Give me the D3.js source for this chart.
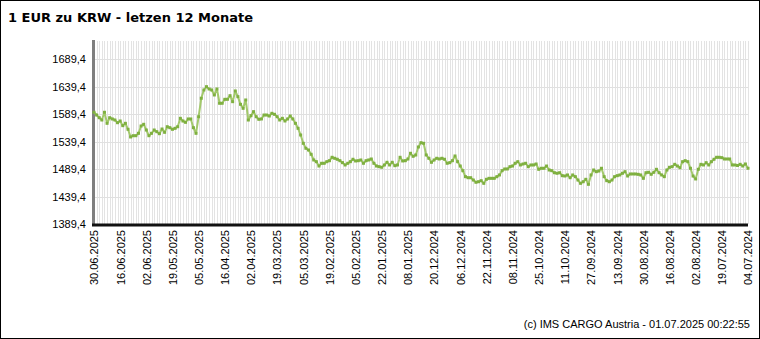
<!DOCTYPE html>
<html><head><meta charset="utf-8">
<script src="https://cdn.jsdelivr.net/npm/d3@7"></script>
<style>body{margin:0;background:#fff}svg{display:block}</style>
</head><body>
<script>
const titleText = "1 EUR zu KRW - letzen 12 Monate";
const footerText = "(c) IMS CARGO Austria - 01.07.2025 00:22:55";
const xTickLabels = ["30.06.2025","16.06.2025","02.06.2025","19.05.2025","05.05.2025","16.04.2025","02.04.2025","19.03.2025","05.03.2025","19.02.2025","05.02.2025","22.01.2025","08.01.2025","20.12.2024","06.12.2024","22.11.2024","08.11.2024","25.10.2024","11.10.2024","27.09.2024","13.09.2024","30.08.2024","16.08.2024","02.08.2024","19.07.2024","04.07.2024"];
const yTicks = [1389.4,1439.4,1489.4,1539.4,1589.4,1639.4,1689.4];
const yDomain = [1389.4, 1722.7];
// daily EUR/KRW rates, left (30.06.2025) to right (04.07.2024)
const rates = [
1592.9,1587.9,1583.0,1578.8,1592.9,1572.8,1583.0,1580.7,1578.8,1573.9,
1577.0,1568.5,1572.8,1561.9,1547.9,1550.2,1550.2,1554.6,1567.9,1571.0,
1560.6,1550.2,1554.6,1560.6,1557.5,1553.9,1562.4,1556.4,1566.6,1564.8,
1561.9,1563.7,1566.6,1581.9,1577.0,1574.6,1580.7,1580.7,1564.8,1554.6,
1584.8,1618.4,1633.5,1639.5,1635.3,1633.5,1624.4,1635.3,1609.3,1609.3,
1616.5,1616.5,1623.1,1612.2,1631.7,1621.3,1607.4,1600.1,1615.3,1578.8,
1586.7,1594.0,1584.8,
1580.1,1580.7,1587.9,1587.9,1586.1,1591.0,1589.2,1584.8,1578.8,1581.9,
1577.0,1580.7,1586.1,1580.7,1572.8,1563.7,1551.5,1536.4,1527.3,1524.2,
1516.4,1506.0,1502.9,1495.0,1500.0,1500.0,1502.9,1504.7,1510.9,1509.1,
1507.3,1504.7,1501.1,1496.9,1500.0,1502.9,1507.3,1504.2,1504.7,1506.0,
1500.0,1504.7,1506.0,1507.8,1500.0,1495.0,1493.8,1492.7,1496.9,1501.8,
1496.9,1501.8,1495.6,1496.9,1510.9,1504.2,1504.7,1507.8,1518.2,1512.7,
1515.1,1529.7,1537.5,1536.4,1515.1,1509.1,1501.8,1506.0,1509.1,1507.8,
1509.1,1507.3,1500.0,1501.1,1504.7,1513.3,1502.9,1495.0,1486.5,1475.6,
1473.7,1473.7,1469.5,1465.4,1466.4,1468.3,1463.5,1470.8,1472.6,1472.6,
1472.6,1475.6,1478.7,1486.5,1489.6,1489.6,1493.8,1495.0,1500.0,1502.9,
1496.9,1498.7,1500.0,1493.8,1496.9,1496.9,1498.7,1489.0,1490.9,1490.9,
1495.0,1487.8,1486.5,1482.8,1481.8,1482.8,1477.4,1476.8,1478.7,1473.7,
1478.7,1475.6,1469.5,1463.5,
1466.4,1470.8,1461.7,1478.7,1487.8,1484.7,1485.9,1490.9,1475.6,1468.3,
1466.4,1469.5,1475.6,1477.4,1478.7,1481.8,1484.7,1476.8,1480.5,1480.5,
1480.5,1479.9,1478.7,1472.6,1482.8,1483.6,1479.9,1483.6,1489.0,1482.8,
1478.7,1475.6,1487.8,1492.7,1493.8,1498.1,1495.0,1491.9,1502.9,1504.7,
1502.9,1490.9,1476.8,1471.4,1489.0,1498.1,1496.9,1501.1,1496.9,1502.9,
1507.3,1510.9,1510.9,1510.2,1507.8,1507.8,1507.8,1496.9,1496.9,1496.0,
1498.1,1495.0,1498.7,1490.9
];

(function(){
const W = 760, H = 339;
const pL = 94, pR = 748, pT = 41, pB = 224;
const svg = d3.select("body").append("svg").attr("width", W).attr("height", H);

svg.append("rect").attr("x",0.5).attr("y",0.5).attr("width",W-1).attr("height",H-1)
  .attr("fill","#fff").attr("stroke","#000");

svg.append("text").attr("x",8).attr("y",22).text(titleText)
  .attr("font-family","DejaVu Sans, Verdana, sans-serif").attr("font-weight","bold")
  .attr("font-size","13px").attr("fill","#000");

const x = d3.scaleLinear().domain([0, rates.length-1]).range([pL, pR]);
const y = d3.scaleLinear().domain(yDomain).range([pB, pT]);

svg.append("g").selectAll("line").data(d3.range(rates.length)).join("line")
  .attr("x1", d=>Math.round(x(d))+0.5).attr("x2", d=>Math.round(x(d))+0.5)
  .attr("y1", pT).attr("y2", pB)
  .attr("stroke","#e3e3e3").attr("stroke-width",1);
svg.append("g").selectAll("line").data(yTicks).join("line")
  .attr("x1", pL).attr("x2", pR)
  .attr("y1", d=>Math.round(y(d))+0.5).attr("y2", d=>Math.round(y(d))+0.5)
  .attr("stroke","#e0e0e0").attr("stroke-width",1);

const fmt = d => d3.format(".1f")(d).replace(".", ",");
const yAxis = svg.append("g").attr("transform",`translate(${pL-6},0)`)
  .call(d3.axisLeft(y).tickValues(yTicks).tickFormat(fmt).tickSize(0).tickPadding(2));
yAxis.select(".domain").remove();
yAxis.selectAll("text").attr("font-family","Liberation Sans, Arial, sans-serif")
  .attr("font-size","11px").attr("fill","#000");

const xTickIdx = xTickLabels.map((d,i)=>i*10);
const xAxis = svg.append("g").attr("transform",`translate(0,${pB+6})`)
  .call(d3.axisBottom(x).tickValues(xTickIdx).tickFormat((d,i)=>xTickLabels[i]).tickSize(0));
xAxis.select(".domain").remove();
xAxis.selectAll("text").attr("font-family","Liberation Sans, Arial, sans-serif")
  .attr("font-size","11px").attr("fill","#000")
  .attr("text-anchor","end").attr("dy","0.35em")
  .attr("transform","rotate(-90)").attr("x",0).attr("y",0);

svg.append("line").attr("x1",pL-0.5).attr("x2",pL-0.5).attr("y1",pT-1).attr("y2",pB+2)
  .attr("stroke","#7f7f7f").attr("stroke-width",3);
svg.append("line").attr("x1",pL-2).attr("x2",pR).attr("y1",pB+1).attr("y2",pB+1)
  .attr("stroke","#111").attr("stroke-width",3);

const line = d3.line().x((d,i)=>x(i)).y(d=>y(d));
svg.append("path").datum(rates).attr("d",line).attr("fill","none")
  .attr("stroke","#a3c96c").attr("stroke-width",2).attr("stroke-linejoin","round");
svg.append("g").selectAll("rect").data(rates).join("rect")
  .attr("x",(d,i)=>x(i)-1.5).attr("y",d=>y(d)-1.5).attr("width",3).attr("height",3)
  .attr("fill","#7fb040");

svg.append("text").attr("x",750).attr("y",328).attr("text-anchor","end").text(footerText)
  .attr("font-family","Liberation Sans, Arial, sans-serif").attr("font-size","11px").attr("fill","#000");
})();
</script>
</body></html>
